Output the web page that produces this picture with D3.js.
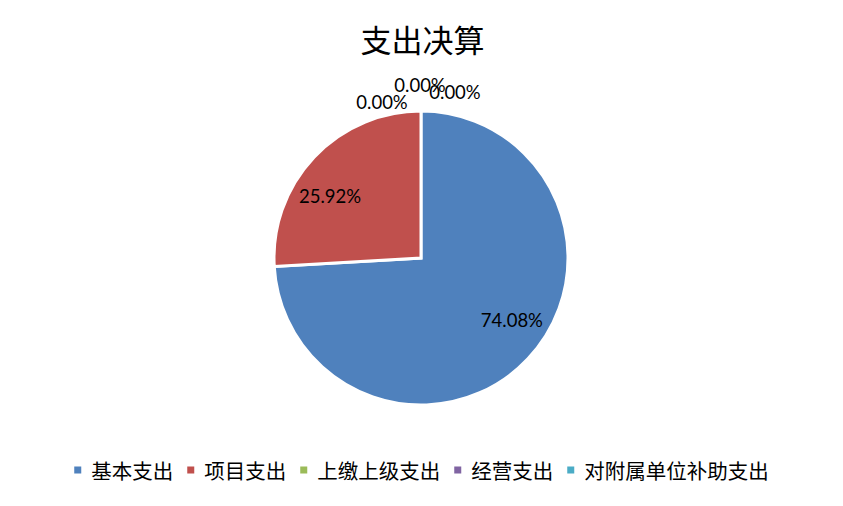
<!DOCTYPE html>
<html>
<head>
<meta charset="utf-8">
<script src="https://cdn.jsdelivr.net/npm/d3@7"></script>
<style>
  html, body { margin: 0; padding: 0; background: #fff; }
  svg { display: block; }
</style>
</head>
<body>
<svg id="chart" width="843" height="506"></svg>
<script>
// data
const title = "支出决算";
const categories = ["基本支出", "项目支出", "上缴上级支出", "经营支出", "对附属单位补助支出"];
const values = [74.08, 25.92, 0, 0, 0];
const colors = ["#4F81BD", "#C0504D", "#9BBB59", "#8064A2", "#4BACC6"];

const svg = d3.select("#chart");
const W = +svg.attr("width");
const cx = 421, cy = 258, R = 147;

svg.append("text")
  .attr("x", W / 2 + 1).attr("y", 38)
  .attr("text-anchor", "middle").attr("dominant-baseline", "central")
  .style("font-family", "'Noto Sans CJK SC', sans-serif")
  .style("font-size", "31px")
  .attr("fill", "#000")
  .text(title);

const data = categories.map((c, i) => ({ name: c, value: values[i], color: colors[i] }));
const pie = d3.pie().sort(null).value(d => d.value);
const arcs = pie(data);
const arc = d3.arc().innerRadius(0).outerRadius(R);

const g = svg.append("g").attr("transform", `translate(${cx},${cy})`);

g.selectAll("path.slice")
  .data(arcs.filter(d => d.value > 0))
  .join("path")
  .attr("class", "slice")
  .attr("d", arc)
  .attr("fill", d => d.data.color)
  .attr("stroke", "#fff")
  .attr("stroke-width", 3)
  .attr("stroke-linejoin", "miter");

// labels: nonzero inside on an ellipse, zero ones stacked above the top
const labelFont = "Lato, 'Noto Sans', sans-serif";
const rx = 125, ry = 90;
const zeroOffsets = [[-39, -9], [-1, -26], [34, -19]];
let zi = 0;
arcs.forEach(d => {
  const mid = (d.startAngle + d.endAngle) / 2;
  let x, y;
  if (d.value > 0) {
    x = rx * Math.sin(mid);
    y = -ry * Math.cos(mid);
  } else {
    const o = zeroOffsets[zi++];
    x = R * Math.sin(mid) + o[0];
    y = -R * Math.cos(mid) + o[1];
  }
  g.append("text")
    .attr("x", x).attr("y", y)
    .attr("text-anchor", "middle").attr("dominant-baseline", "central")
    .style("font-family", labelFont)
    .style("font-size", "18.5px")
    .attr("fill", "#000")
    .text(d3.format(".2f")(d.value) + "%");
});

// legend, centered
const legY = 470, fs = 20.5, box = 7, boxGap = 10, itemGap = 14;
const legend = svg.append("g");
let xpos = 0;
data.forEach(d => {
  const it = legend.append("g").attr("transform", `translate(${xpos},0)`);
  it.append("rect")
    .attr("x", 0).attr("y", legY - box / 2)
    .attr("width", box).attr("height", box)
    .attr("fill", d.color);
  const t = it.append("text")
    .attr("x", box + boxGap).attr("y", legY)
    .attr("dominant-baseline", "central")
    .style("font-family", "'Noto Sans CJK SC', sans-serif")
    .style("font-size", fs + "px")
    .attr("fill", "#000")
    .text(d.name);
  xpos += box + boxGap + t.node().getComputedTextLength() + itemGap;
});
const legW = xpos - itemGap;
legend.attr("transform", `translate(${(W - legW) / 2},0)`);
</script>
</body>
</html>
